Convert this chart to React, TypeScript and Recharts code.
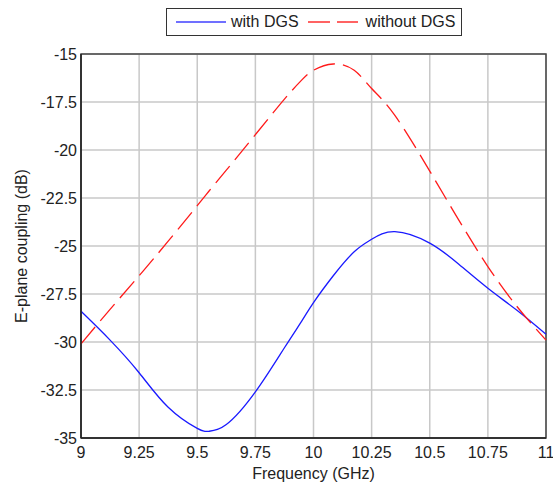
import { LineChart, Line, XAxis, YAxis, CartesianGrid, ReferenceArea } from 'recharts';

// Frequency points (GHz)
const freqs = [9, 9.125, 9.25, 9.375, 9.5, 9.55, 9.625, 9.75, 9.875, 9.95, 10, 10.085, 10.175, 10.25, 10.35, 10.5, 10.625, 10.75, 10.875, 11];
// E-plane coupling (dB)
const withDGS = [-28.4, -29.9, -31.6, -33.4, -34.5, -34.65, -34.3, -32.6, -30.3, -28.9, -27.95, -26.55, -25.3, -24.65, -24.25, -24.85, -25.95, -27.2, -28.35, -29.6];
const withoutDGS = [-30.1, -28.3, -26.55, -24.75, -22.9, -22.15, -21.05, -19.2, -17.35, -16.35, -15.85, -15.52, -15.85, -16.8, -18.2, -21.1, -23.65, -26.07, -28.15, -29.9];

const xTicks = [9, 9.25, 9.5, 9.75, 10, 10.25, 10.5, 10.75, 11];
const yTicks = [-35, -32.5, -30, -27.5, -25, -22.5, -20, -17.5, -15];

const data = freqs.map((f, i) => ({ f, with: withDGS[i], without: withoutDGS[i] }));

const font = '"Liberation Sans", Arial, sans-serif';
const tickStyle = { fontSize: 16, fill: '#222', fontFamily: font };

const YLabel = ({ viewBox }: any) => {
  const cx = 21;
  const cy = viewBox.y + viewBox.height / 2;
  return (
    <text x={cx} y={cy} transform={`rotate(-90, ${cx}, ${cy})`} textAnchor="middle" dominantBaseline="central"
      style={{ fontSize: 16, fill: '#222', fontFamily: font }}>
      E-plane coupling (dB)
    </text>
  );
};

export default function App() {
  return (
    <div style={{ position: 'absolute', left: 0, top: 0, width: 553, height: 485, background: '#fff' }}>
      <div style={{
        position: 'absolute', left: 166, top: 8, width: 296, height: 28, border: '1px solid #333',
        boxSizing: 'border-box', display: 'flex', alignItems: 'center', fontFamily: font, fontSize: 16, color: '#222',
        background: '#fff', zIndex: 2,
      }}>
        <svg width={60} height={10} style={{ marginLeft: 9 }}>
          <line x1={0} y1={5} x2={50} y2={5} stroke="#4040ff" strokeWidth={1.5} />
        </svg>
        <span style={{ marginLeft: -5 }}>with DGS</span>
        <svg width={60} height={10} style={{ marginLeft: 9 }}>
          <line x1={0} y1={5} x2={50} y2={5} stroke="#ff3030" strokeWidth={1.5} strokeDasharray="22 7" />
        </svg>
        <span style={{ marginLeft: -2 }}>without DGS</span>
      </div>
      <LineChart width={553} height={485} data={data} margin={{ top: 54, right: 7, bottom: 0, left: 0 }}>
        <CartesianGrid stroke="#c8c8c8" strokeWidth={1.5} horizontalValues={yTicks} verticalValues={xTicks} />
        <XAxis
          dataKey="f"
          type="number"
          domain={[9, 11]}
          ticks={xTicks}
          height={47}
          tickLine={false}
          tickSize={0}
          tickMargin={9}
          axisLine={{ stroke: '#222', strokeWidth: 1.5 }}
          tick={tickStyle}
          interval={0}
          label={{ value: 'Frequency (GHz)', position: 'insideBottom', offset: 6, style: { fontSize: 16, fill: '#222', fontFamily: font } }}
        />
        <YAxis
          type="number"
          domain={[-35, -15]}
          ticks={yTicks}
          width={81}
          tickLine={false}
          tickSize={0}
          tickMargin={4}
          axisLine={{ stroke: '#222', strokeWidth: 1.5 }}
          tick={tickStyle}
          interval={0}
          label={<YLabel />}
        />
        <ReferenceArea x1={9} x2={11} y1={-35} y2={-15} fill="none" stroke="#444" strokeWidth={1.5} />
        <Line
          type="natural"
          dataKey="with"
          name="with DGS"
          stroke="#1a1aff"
          strokeWidth={1.3}
          dot={false}
          isAnimationActive={false}
        />
        <Line
          type="natural"
          dataKey="without"
          name="without DGS"
          stroke="#ff1a1a"
          strokeWidth={1.3}
          strokeDasharray="22 8"
          dot={false}
          isAnimationActive={false}
        />
      </LineChart>
    </div>
  );
}
